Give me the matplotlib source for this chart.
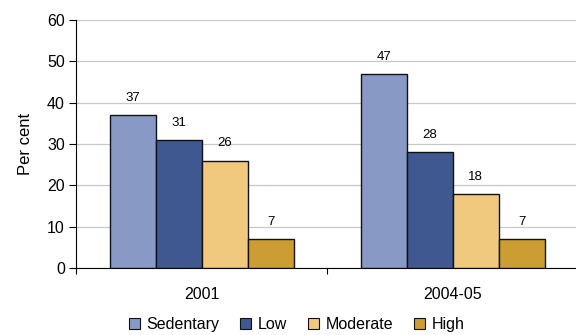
import numpy as np
import matplotlib
matplotlib.use("Agg")
import matplotlib.pyplot as plt
from matplotlib.patches import Patch

plt.rcParams['font.family'] = ['Liberation Sans', 'DejaVu Sans']

years = ['2001', '2004-05']
levels = ['Sedentary', 'Low', 'Moderate', 'High']
sedentary = [37, 47]
low = [31, 28]
moderate = [26, 18]
high = [7, 7]
colours = ['#8899C6', '#3F5890', '#F0C97E', '#CC9D33']

fig = plt.figure(figsize=(5.76, 3.35), dpi=100)
ax = fig.add_axes([0.132, 0.2, 0.872, 0.74])

x = np.arange(len(years))
w = 0.183
series = [sedentary, low, moderate, high]
for i, vals in enumerate(series):
    pos = x + (i - 1.5) * w
    bars = ax.bar(pos, vals, w, color=colours[i], edgecolor='#111111',
                  linewidth=1.0, zorder=3, label=levels[i])
    for b, v in zip(bars, vals):
        ax.annotate(str(v), (b.get_x() + b.get_width() / 2, v),
                    xytext=(0, 8), textcoords='offset points',
                    ha='center', va='bottom', fontsize=9.5)

ax.set_xlim(-0.5, 1.5)
ax.set_ylim(0, 60)
ax.set_yticks(range(0, 61, 10))
ax.yaxis.grid(True, color='#C8C8C8', linewidth=0.9, zorder=0)
ax.set_axisbelow(True)
ax.tick_params(axis='y', labelsize=11.5, length=5, width=0.8, pad=3)
ax.set_xticks(x)
ax.set_xticklabels(years, fontsize=11.5)
ax.tick_params(axis='x', which='major', length=0, pad=14)
ax.set_xticks([-0.5, 0.5, 1.5], minor=True)
ax.tick_params(axis='x', which='minor', length=4, width=0.8)
ax.set_ylabel('Per cent', fontsize=12, labelpad=10)
for s in ['top', 'right']:
    ax.spines[s].set_visible(False)
ax.spines['left'].set_linewidth(0.8)
ax.spines['bottom'].set_linewidth(0.8)

handles = [Patch(facecolor=c, edgecolor='#111111', linewidth=0.8) for c in colours]
fig.legend(handles, levels, loc='lower center', bbox_to_anchor=(0.515, -0.035),
           ncol=4, frameon=False, fontsize=11.5, handlelength=0.7,
           handleheight=0.7, handletextpad=0.4, columnspacing=1.3)

fig.savefig('out.png', dpi=100)
